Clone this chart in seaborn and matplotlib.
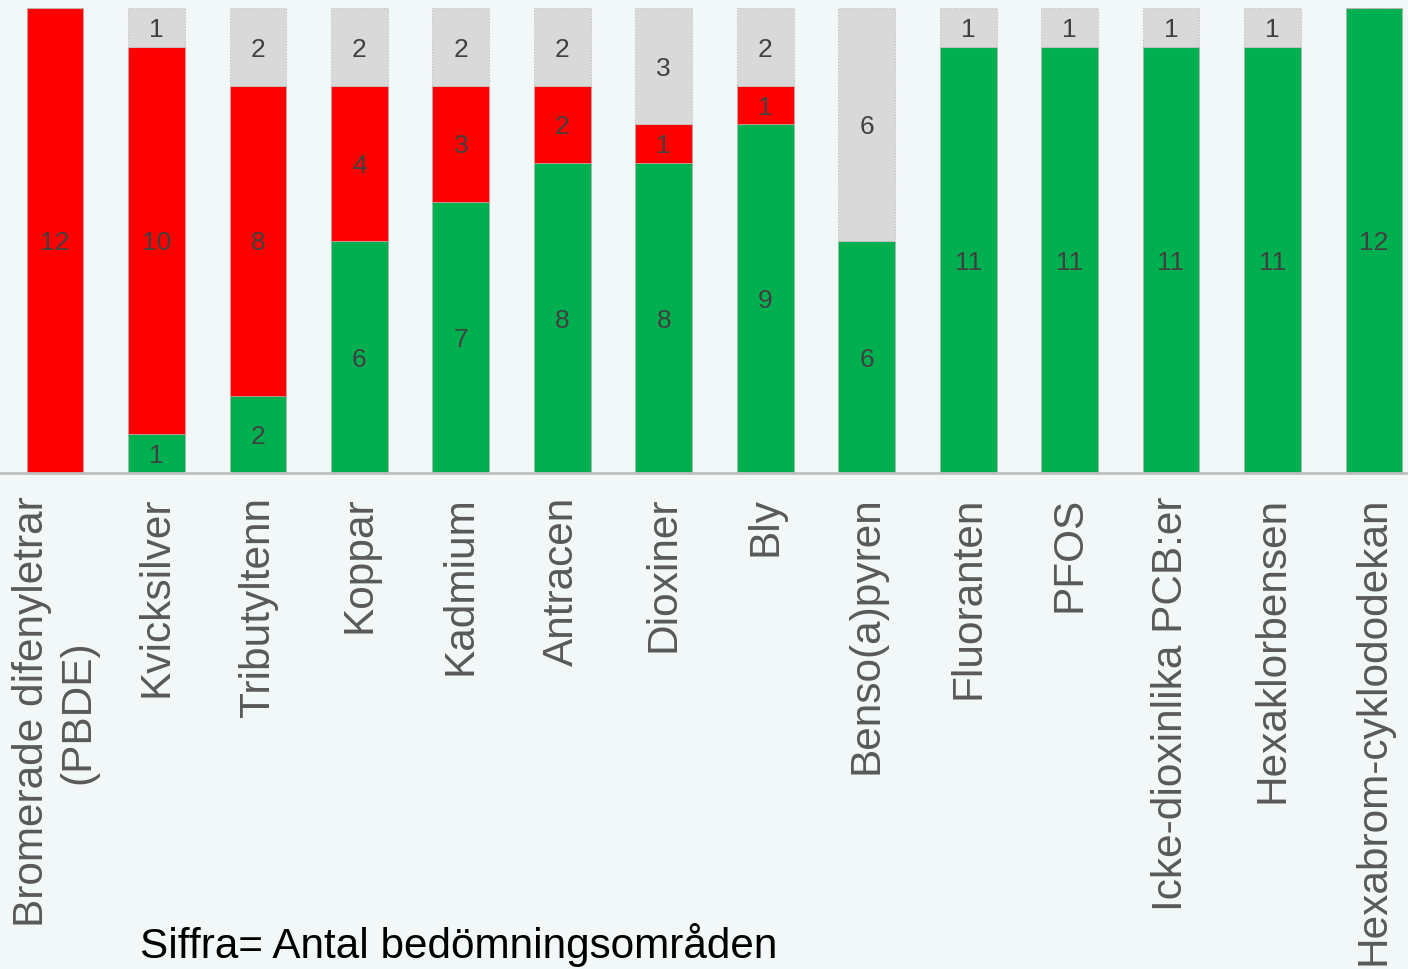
import matplotlib
matplotlib.use("Agg")
import matplotlib.pyplot as plt
import seaborn as sns
import numpy as np

categories = ["Bromerade difenyletrar\n(PBDE)", "Kvicksilver", "Tributyltenn", "Koppar",
              "Kadmium", "Antracen", "Dioxiner", "Bly", "Benso(a)pyren", "Fluoranten",
              "PFOS", "Icke-dioxinlika PCB:er", "Hexaklorbensen", "Hexabrom-cyklododekan"]
green_vals = [0, 1, 2, 6, 7, 8, 8, 9, 6, 11, 11, 11, 11, 12]
red_vals = [12, 10, 8, 4, 3, 2, 1, 1, 0, 0, 0, 0, 0, 0]
gray_vals = [0, 1, 2, 2, 2, 2, 3, 2, 6, 1, 1, 1, 1, 0]
footnote = "Siffra= Antal bedömningsområden"

sns.set_theme(style="white")
plt.rcParams["font.family"] = ["Liberation Sans", "DejaVu Sans"]

bg = "#f2f7f7"
fig = plt.figure(figsize=(14.08, 9.69), dpi=100, facecolor=bg)
ax = fig.add_axes([0.0, 1 - 473 / 969, 1.0, (473 - 8) / 969])
ax.set_facecolor(bg)

g = np.array(green_vals)
r = np.array(red_vals)
gr = np.array(gray_vals)
xs = list(range(len(categories)))
w = 0.56

sns.barplot(x=xs, y=g, color="#00b050", width=w, ax=ax, edgecolor="#9fb8a8",
            linewidth=0.6, saturation=1, native_scale=True)
sns.barplot(x=xs, y=r, bottom=g, color="#ff0000", width=w, ax=ax, edgecolor="#c8a0a0",
            linewidth=0.6, saturation=1, native_scale=True)
sns.barplot(x=xs, y=gr, bottom=g + r, color="#d9d9d9", width=w, ax=ax, edgecolor="#bdbdbd",
            linewidth=0.8, linestyle=":", saturation=1, native_scale=True)

for cont, vals in zip(ax.containers, [g, r, gr]):
    labels = [str(v) if v > 0 else "" for v in vals]
    ax.bar_label(cont, labels=labels, label_type="center", fontsize=19, color="#404040",
                 padding=-2)

ax.set_xlim(-55 / 101.46, 13 + (1408 - 1374) / 101.46)
ax.set_ylim(0, 12)
ax.set_xticks(xs)
ax.set_xticklabels(categories, rotation=90, fontsize=30.5, color="#595959",
                   multialignment="center")
ax.tick_params(axis="x", length=0, pad=17)
ax.set_yticks([])
for s in ["top", "left", "right"]:
    ax.spines[s].set_visible(False)
ax.spines["bottom"].set_color("#bfbfbf")
ax.spines["bottom"].set_linewidth(2)
ax.set_xlabel("")
ax.set_ylabel("")

fig.text(140 / 1408, 1 - 958 / 969, footnote, fontsize=30.4, color="black",
         va="baseline", ha="left")

fig.savefig("out.png", dpi=100, facecolor=bg)
